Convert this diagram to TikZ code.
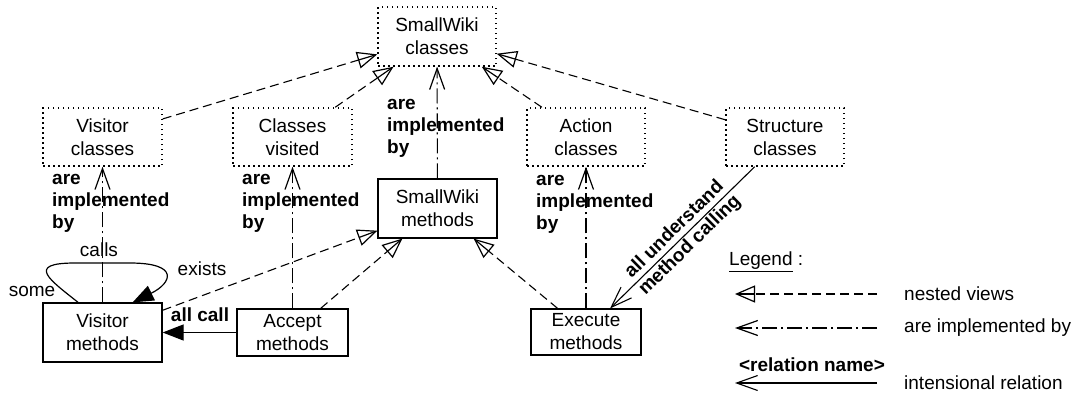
\documentclass[tikz,border=0pt]{standalone}
\usepackage{fontspec}
\setmainfont{Liberation Sans}
\usetikzlibrary{arrows.meta,calc}
\newcommand\dconn[4]{%
  \draw[#1] (#3) -- (#4);
  \path (#3) -- (#4) coordinate[pos=1] (dcE);
  \draw[#2] ($(dcE)!26pt!(#3)$) -- (dcE);}
\begin{document}
\begin{tikzpicture}[x=1pt,y=-1pt,
  every node/.style={font=\fontsize{19}{23}\selectfont},
  box/.style={draw, line width=1.2pt, inner sep=0pt, align=center},
  dotbox/.style={draw, line width=1.5pt, dash pattern=on 1.5pt off 3.5pt, inner sep=0pt, align=center},
  lab/.style={font=\fontsize{19}{22}\selectfont\bfseries, align=left, inner sep=0pt},
  txt/.style={inner sep=0pt},
  nestedline/.style={line width=1.1pt, dash pattern=on 9pt off 5pt, shorten >=20pt},
  nestedtip/.style={line width=1.2pt, solid, shorten <=24pt, -{Triangle[open,length=20pt,width=17pt]}},
  implline/.style={line width=1.1pt, dash pattern=on 15pt off 4pt on 2pt off 4pt, shorten >=1pt},
  impltip/.style={line width=1.2pt, solid, shorten <=24pt, -{Straight Barb[length=21pt,width=15pt]}},
  rel/.style={line width=1.1pt, -{Straight Barb[length=21pt,width=15pt]}},
  strong/.style={line width=1.2pt, -{Triangle[length=21pt,width=16pt]}}
]
\useasboundingbox (0,0) rectangle (1078,394);

% dotted class views
\node[dotbox, minimum width=118pt, minimum height=59pt] (swc) at (437,36.5) {SmallWiki\\classes};
\node[dotbox, minimum width=119pt, minimum height=58pt] (vc) at (102.5,137) {Visitor\\classes};
\node[dotbox, minimum width=119pt, minimum height=58pt] (cv) at (292.5,137) {Classes\\visited};
\node[dotbox, minimum width=118pt, minimum height=58pt] (ac) at (586,137) {Action\\classes};
\node[dotbox, minimum width=118pt, minimum height=58pt] (sc) at (785,137) {Structure\\classes};

% method views
\node[box, minimum width=119pt, minimum height=59pt] (swm) at (437.5,208.5) {SmallWiki\\methods};
\node[box, minimum width=119pt, minimum height=59pt] (vm) at (102.5,332.5) {Visitor\\methods};
\node[box, minimum width=111pt, minimum height=47pt] (am) at (292.5,332.5) {Accept\\methods};
\node[box, minimum width=110pt, minimum height=46pt] (em) at (586,332) {Execute\\methods};

% nested views
\dconn{nestedline}{nestedtip}{vc}{swc}
\dconn{nestedline}{nestedtip}{cv}{swc}
\dconn{nestedline}{nestedtip}{ac}{swc}
\dconn{nestedline}{nestedtip}{sc}{swc}
\dconn{nestedline}{nestedtip}{vm}{swm}
\dconn{nestedline}{nestedtip}{am}{swm}
\dconn{nestedline}{nestedtip}{em}{swm}

% are implemented by
\dconn{implline}{impltip}{swm}{swc}
\dconn{implline}{impltip}{vm}{vc}
\dconn{implline}{impltip}{am}{cv}
\dconn{implline}{impltip}{em}{ac}

\node[lab, anchor=west] (l1) at (52,203) {are\\implemented\\by};
\node[lab, anchor=west] (l2) at (242,203) {are\\implemented\\by};
\node[lab, anchor=west] (l3) at (387,128) {are\\implemented\\by};
\node[lab, anchor=west] (l4) at (536,204) {are\\implemented\\by};

% intensional relations
\draw[strong] (am) -- (vm);
\node[lab] (allcall) at (200,315) {all call};

\draw[strong] (vm.129.7) .. controls (50,280) and (25,263) .. (75,263)
  -- (130,263) .. controls (180,263) and (172,283) .. (vm.45);
\node[txt] (calls) at (99,250) {calls};
\node[txt] (exists) at (202,269) {exists};
\node[txt] (some) at (32,291) {some};

\draw[rel] (sc) -- node[midway, sloped, lab, align=center] (aum) {all understand\\method calling} (em);

% legend
\node[txt, anchor=west] (leg) at (729,262) {\underline{Legend} :};
\coordinate (n1) at (877,294);
\coordinate (n2) at (735,294);
\dconn{nestedline}{nestedtip}{n1}{n2}
\node[txt, anchor=west] (tn) at (904,294) {nested views};
\coordinate (i1) at (877,328);
\coordinate (i2) at (735,328);
\dconn{implline}{impltip}{i1}{i2}
\node[txt, anchor=west] (ti) at (904,328) {are implemented by};
\node[lab] (rn) at (812,365) {<relation name>};
\coordinate (r1) at (877,383);
\coordinate (r2) at (735,383);
\draw[rel] (r1) -- (r2);
\node[txt, anchor=west] (tr) at (904,383) {intensional relation};
\end{tikzpicture}
\end{document}
